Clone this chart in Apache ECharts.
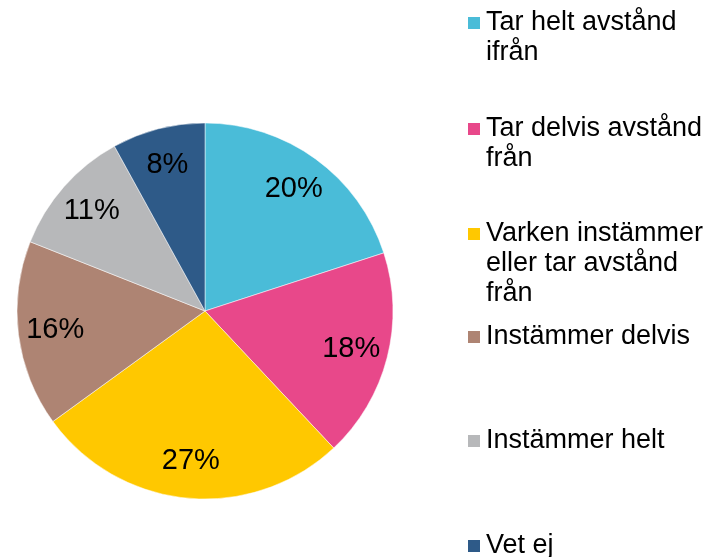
<!DOCTYPE html>
<html>
<head>
<meta charset="utf-8">
<script src="https://cdn.jsdelivr.net/npm/echarts@6/dist/echarts.min.js"></script>
<style>
  html, body { margin: 0; padding: 0; background: #fff; }
  #chart { width: 707px; height: 557px; }
</style>
</head>
<body>
<div id="chart"></div>
<script>
// categories and shares (percent), clockwise from 12 o'clock
const categories = [
  'Tar helt avstånd ifrån',
  'Tar delvis avstånd från',
  'Varken instämmer eller tar avstånd från',
  'Instämmer delvis',
  'Instämmer helt',
  'Vet ej'
]
const legendLines = [
  ['Tar helt avstånd', 'ifrån'],
  ['Tar delvis avstånd', 'från'],
  ['Varken instämmer', 'eller tar avstånd', 'från'],
  ['Instämmer delvis'],
  ['Instämmer helt'],
  ['Vet ej']
]
const shares = [20, 18, 27, 16, 11, 8]
const colors = ['#4abcd8', '#e8488a', '#ffc800', '#ae8473', '#b7b8ba', '#2e5a88']

const FONT = '"Liberation Sans", Arial, sans-serif'
const LINE_H = 30
// first-line centre of each legend entry
const legendY = [23, 129, 234, 337, 441, 546]

const pieData = categories.map((name, i) => ({
  name: name,
  value: shares[i],
  itemStyle: { color: colors[i] }
}))

// legend text is centred on the icon, so pad with empty lines on top
// to keep the icon level with the first line
const legends = categories.map((name, i) => {
  const n = legendLines[i].length
  return {
    data: [name],
    left: 466,
    top: legendY[i] - (2 * n - 1) * LINE_H / 2,
    padding: 0,
    itemWidth: 14,
    itemHeight: 14,
    icon: 'rect',
    selectedMode: false,
    formatter: () => '\n'.repeat(n - 1) + legendLines[i].join('\n'),
    textStyle: {
      fontFamily: FONT,
      fontSize: 27,
      color: '#000',
      lineHeight: LINE_H
    }
  }
})

const chart = echarts.init(document.getElementById('chart'), null, { renderer: 'canvas' })
chart.setOption({
  animation: false,
  backgroundColor: '#fff',
  legend: legends,
  series: [
    {
      type: 'pie',
      center: [205, 311],
      radius: [0, 188],
      startAngle: 90,
      clockwise: true,
      silent: true,
      itemStyle: { borderColor: '#fff', borderWidth: 0.5 },
      label: { show: false },
      labelLine: { show: false },
      data: pieData
    },
    {
      // transparent ring only used to place the percentage labels further out
      type: 'pie',
      center: [205, 311],
      radius: [108, 188],
      startAngle: 90,
      clockwise: true,
      silent: true,
      legendHoverLink: false,
      itemStyle: { color: 'rgba(0,0,0,0)', borderWidth: 0 },
      label: {
        show: true,
        position: 'inside',
        formatter: '{c}%',
        fontFamily: FONT,
        fontSize: 29,
        color: '#000'
      },
      labelLine: { show: false },
      data: categories.map((name, i) => ({ name: name, value: shares[i] }))
    }
  ]
})
</script>
</body>
</html>
